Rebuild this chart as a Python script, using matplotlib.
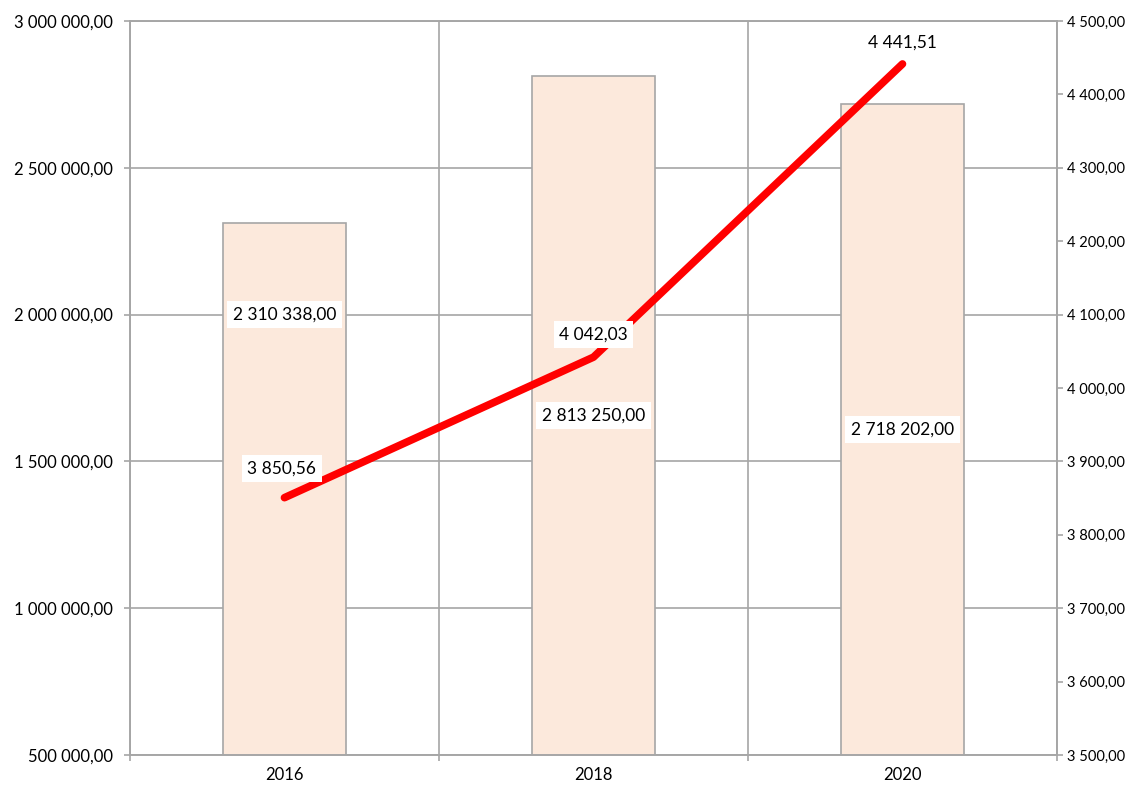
import matplotlib
matplotlib.use("Agg")
import matplotlib.pyplot as plt
from matplotlib.ticker import FuncFormatter, MultipleLocator, FixedLocator

years = ["2016", "2018", "2020"]
amounts = [2310338.00, 2813250.00, 2718202.00]
rates = [3850.56, 4042.03, 4441.51]

# where the bar value boxes sit (left-axis units)
amount_label_y = [2000000, 1655000, 1608000]

grey = "#a6a6a6"
bar_face = "#fce9dc"
red = "#ff0000"


def fmt(v, pos=None):
    return f"{v:,.2f}".replace(",", " ").replace(".", ",")


plt.rcParams["font.family"] = ["Lato", "DejaVu Sans"]

fig = plt.figure(figsize=(11.3, 7.87), dpi=100)
ax = fig.add_axes([0.115, 0.0407, 0.8204, 0.9326])
ax2 = ax.twinx()

x = list(range(len(years)))
ax.bar(x, amounts, width=0.4, color=bar_face, edgecolor=grey, linewidth=1.2, zorder=2)
ax.set_axisbelow(True)

ax.set_xlim(-0.5, len(years) - 0.5)
ax.set_ylim(500000, 3000000)
ax.yaxis.set_major_locator(MultipleLocator(500000))
ax.yaxis.set_major_formatter(FuncFormatter(fmt))
ax.grid(axis="y", color=grey, linewidth=1.2)

ax.set_xticks(x)
ax.set_xticklabels(years)
ax.xaxis.set_minor_locator(FixedLocator([i - 0.5 for i in range(len(years) + 1)]))
ax.grid(axis="x", which="minor", color=grey, linewidth=1.2)
ax.tick_params(axis="x", which="major", length=0, pad=9, labelsize=12)
ax.tick_params(axis="x", which="minor", length=4.5, color=grey, width=1.2)
ax.tick_params(axis="y", length=4.5, color=grey, width=1.2, labelsize=12, pad=8)

for i, (v, ly) in enumerate(zip(amounts, amount_label_y)):
    ax.text(i, ly, fmt(v), ha="center", va="center", fontsize=12.5, zorder=5,
            bbox=dict(facecolor="white", edgecolor="none", pad=4))

ax2.plot(x, rates, color=red, linewidth=5.5, solid_capstyle="round",
         solid_joinstyle="round", zorder=3)
ax2.set_ylim(3500, 4500)
ax2.yaxis.set_major_locator(MultipleLocator(100))
ax2.yaxis.set_major_formatter(FuncFormatter(fmt))
ax2.tick_params(axis="y", length=4.5, color=grey, width=1.2, labelsize=10.5, pad=3)

offsets = [(-2, 21), (0, 16), (0, 15)]
for i, (v, off) in enumerate(zip(rates, offsets)):
    ax2.annotate(fmt(v), (i, v), xytext=off, textcoords="offset points",
                 ha="center", va="center", fontsize=12.5, zorder=6,
                 bbox=dict(facecolor="white", edgecolor="none", pad=4))

for a in (ax, ax2):
    for s in a.spines.values():
        s.set_color(grey)
        s.set_linewidth(1.2)

fig.savefig("out.png", dpi=100)
